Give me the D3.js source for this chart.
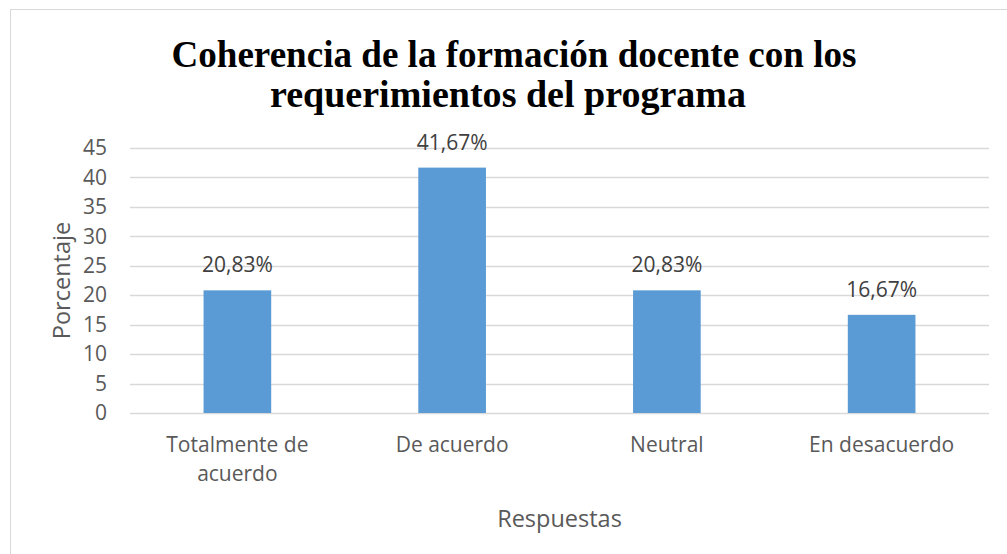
<!DOCTYPE html>
<html>
<head>
<meta charset="utf-8">
<script src="https://cdn.jsdelivr.net/npm/d3@7"></script>
<style>
  body { margin: 0; background: #fff; }
  svg text { font-family: "Open Sans", sans-serif; }
  svg text.title { font-family: "Liberation Serif", "Times New Roman", serif; font-weight: bold; }
</style>
</head>
<body>
<div id="plot"></div>
<script>
// data
var categories = ["Totalmente de acuerdo", "De acuerdo", "Neutral", "En desacuerdo"];
var catLines = [["Totalmente de", "acuerdo"], ["De acuerdo"], ["Neutral"], ["En desacuerdo"]];
var values = [20.83, 41.67, 20.83, 16.67];
var valueLabels = ["20,83%", "41,67%", "20,83%", "16,67%"];
var yTicks = [0, 5, 10, 15, 20, 25, 30, 35, 40, 45];
var titleLines = ["Coherencia de la formación docente con los", "requerimientos del programa"];

var w = 1007, h = 554;
var pLeft = 130, pRight = 989, pTop = 148, pBottom = 413;

var svg = d3.select("#plot").append("svg")
  .attr("width", w)
  .attr("height", h);

// chart frame
svg.append("rect")
  .attr("x", 10.5).attr("y", 9.5)
  .attr("width", 1010).attr("height", 560)
  .attr("fill", "#fff")
  .attr("stroke", "#d9d9d9");

var x = d3.scaleBand()
  .domain(categories)
  .range([pLeft, pRight])
  .paddingInner(0.685)
  .paddingOuter(0.3425);

var y = d3.scaleLinear()
  .domain([0, 45])
  .range([pBottom, pTop]);

// gridlines
svg.append("g")
  .selectAll("line")
  .data(yTicks)
  .enter()
  .append("line")
  .attr("x1", pLeft).attr("x2", pRight)
  .attr("y1", function(d) { return Math.round(y(d)) + 0.5; })
  .attr("y2", function(d) { return Math.round(y(d)) + 0.5; })
  .attr("stroke", "#d9d9d9")
  .attr("stroke-width", 1.3);

// y axis labels
var yAxis = d3.axisLeft(y).tickValues(yTicks).tickSize(0).tickPadding(23);
var yg = svg.append("g")
  .attr("transform", "translate(" + pLeft + ",0)")
  .call(yAxis);
yg.select(".domain").remove();
yg.selectAll("text")
  .attr("font-size", "21px")
  .attr("fill", "#595959");

// bars
svg.selectAll("rect.bar")
  .data(values)
  .enter()
  .append("rect")
  .attr("class", "bar")
  .attr("x", function(d, i) { return x(categories[i]); })
  .attr("width", x.bandwidth())
  .attr("y", function(d) { return y(d); })
  .attr("height", function(d) { return y(0) - y(d); })
  .attr("fill", "#5b9bd5");

// value labels
svg.selectAll("text.val")
  .data(values)
  .enter()
  .append("text")
  .attr("class", "val")
  .attr("x", function(d, i) { return x(categories[i]) + x.bandwidth() / 2; })
  .attr("y", function(d) { return y(d) - 18; })
  .attr("text-anchor", "middle")
  .attr("font-size", "21px")
  .attr("fill", "#404040")
  .text(function(d, i) { return valueLabels[i]; });

// category labels
var cat = svg.selectAll("text.cat")
  .data(categories)
  .enter()
  .append("text")
  .attr("class", "cat")
  .attr("text-anchor", "middle")
  .attr("font-size", "21px")
  .attr("fill", "#595959");
cat.each(function(d, i) {
  var t = d3.select(this);
  catLines[i].forEach(function(line, j) {
    t.append("tspan")
      .attr("x", x(d) + x.bandwidth() / 2)
      .attr("y", 452 + j * 29)
      .text(line);
  });
});

// axis titles
svg.append("text")
  .attr("text-anchor", "middle")
  .attr("transform", "translate(" + ((pLeft + pRight) / 2) + ",527)")
  .attr("font-size", "23.5px")
  .attr("fill", "#595959")
  .text("Respuestas");

svg.append("text")
  .attr("text-anchor", "middle")
  .attr("transform", "translate(70," + ((pTop + pBottom) / 2) + ")rotate(-90)")
  .attr("font-size", "23.5px")
  .attr("fill", "#595959")
  .text("Porcentaje");

// title, squeezed like the original
var titleWidths = [685, 476];
titleLines.forEach(function(line, i) {
  svg.append("text")
    .attr("class", "title")
    .attr("x", 514 - i * 6)
    .attr("y", 67 + i * 40)
    .attr("text-anchor", "middle")
    .attr("font-size", "38px")
    .attr("fill", "#000")
    .attr("textLength", titleWidths[i])
    .attr("lengthAdjust", "spacingAndGlyphs")
    .text(line);
});
</script>
</body>
</html>
